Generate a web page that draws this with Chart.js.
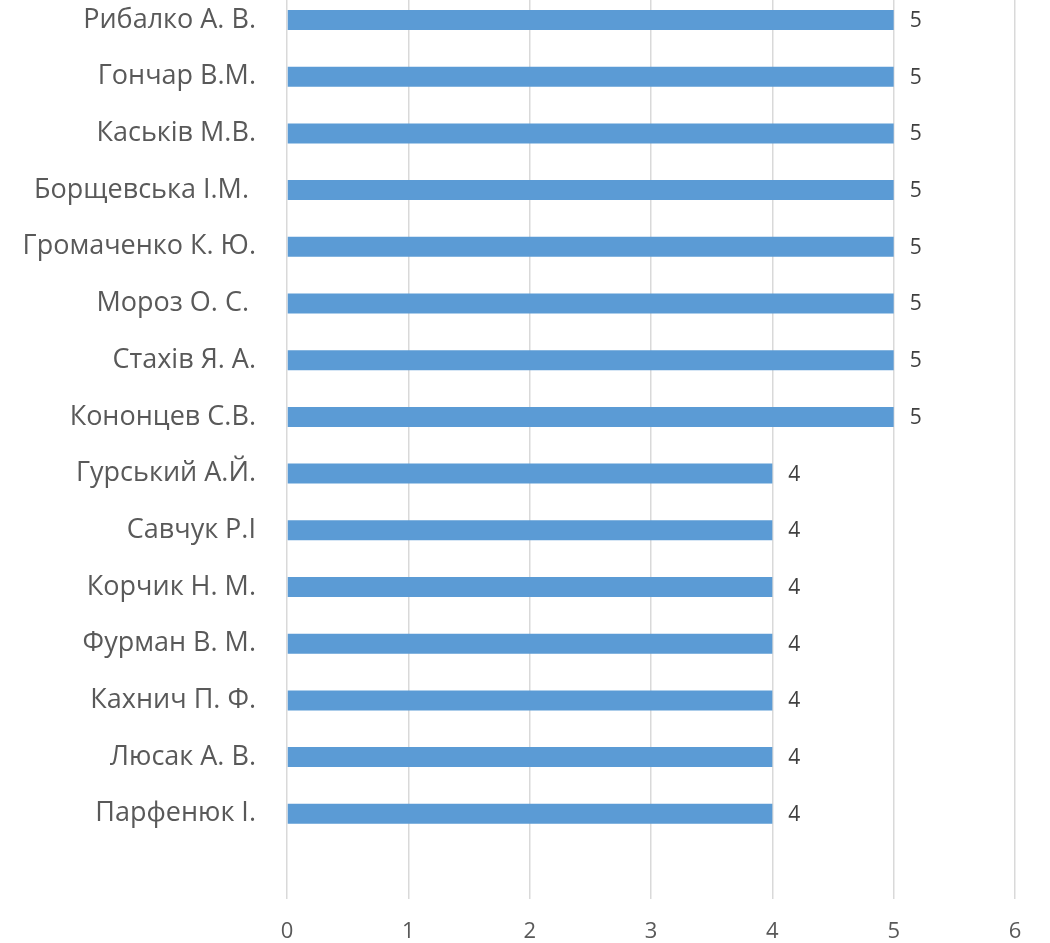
<!DOCTYPE html>
<html>
<head>
<meta charset="utf-8">
<script src="https://cdn.jsdelivr.net/npm/chart.js@4"></script>
<style>
  html, body { margin: 0; padding: 0; background: #ffffff; overflow: hidden; }
  #wrap { position: absolute; left: 0; top: -20px; width: 1050px; height: 963px; }
</style>
</head>
<body>
<div id="wrap"><canvas id="c" width="1050" height="963"></canvas></div>
<script>
const names = [
  "Рибалко А. В.",
  "Гончар В.М.",
  "Каськів М.В.",
  "Борщевська І.М. ",
  "Громаченко К. Ю.",
  "Мороз О. С. ",
  "Стахів Я. А.",
  "Кононцев С.В.",
  "Гурський А.Й.",
  "Савчук Р.І",
  "Корчик Н. М.",
  "Фурман В. М.",
  "Кахнич П. Ф.",
  "Люсак А. В.",
  "Парфенюк І."
];
const scores = [5, 5, 5, 5, 5, 5, 5, 5, 4, 4, 4, 4, 4, 4, 4];
const xTicks = [0, 1, 2, 3, 4, 5, 6];

const FONT = "'Open Sans', 'DejaVu Sans', sans-serif";

const valueLabels = {
  id: 'valueLabels',
  afterDatasetsDraw(chart) {
    const ctx = chart.ctx;
    const meta = chart.getDatasetMeta(0);
    ctx.save();
    ctx.font = "21px " + FONT;
    ctx.fillStyle = "#404040";
    ctx.textAlign = "left";
    ctx.textBaseline = "middle";
    meta.data.forEach((bar, i) => {
      const v = chart.data.datasets[0].data[i];
      if (v === null || v === undefined) return;
      ctx.fillText(String(v), bar.x + 16, bar.y + 1);
    });
    ctx.restore();
  }
};

new Chart(document.getElementById('c'), {
  type: 'bar',
  data: {
    labels: names.concat([""]),
    datasets: [{
      data: scores,
      backgroundColor: '#5B9BD5',
      borderWidth: 0,
      categoryPercentage: 1,
      barPercentage: 0.353
    }]
  },
  options: {
    indexAxis: 'y',
    responsive: false,
    animation: false,
    devicePixelRatio: 1,
    layout: { padding: { top: 11.65, right: 35, left: 0, bottom: 0 } },
    plugins: { legend: { display: false }, tooltip: { enabled: false } },
    scales: {
      x: {
        min: 0, max: 6,
        afterBuildTicks(scale) { scale.ticks = xTicks.map(v => ({ value: v })); },
        afterFit(scale) {
          scale.height = 44.15;
          scale.paddingLeft = 0; scale.paddingRight = 0;
          scale.paddingTop = 0; scale.paddingBottom = 0;
        },
        grid: { color: '#D9D9D9', lineWidth: 1.5, drawTicks: false },
        border: { display: false },
        ticks: { font: { family: FONT, size: 22 }, color: '#595959', padding: 20 }
      },
      y: {
        afterFit(scale) {
          scale.width = 287;
          scale.paddingLeft = 0; scale.paddingRight = 0;
          scale.paddingTop = 0; scale.paddingBottom = 0;
        },
        grid: { display: false, drawTicks: false },
        border: { display: false },
        ticks: { font: { family: FONT, size: 27 }, color: '#595959', padding: 31, autoSkip: false }
      }
    }
  },
  plugins: [valueLabels]
});
</script>
</body>
</html>
